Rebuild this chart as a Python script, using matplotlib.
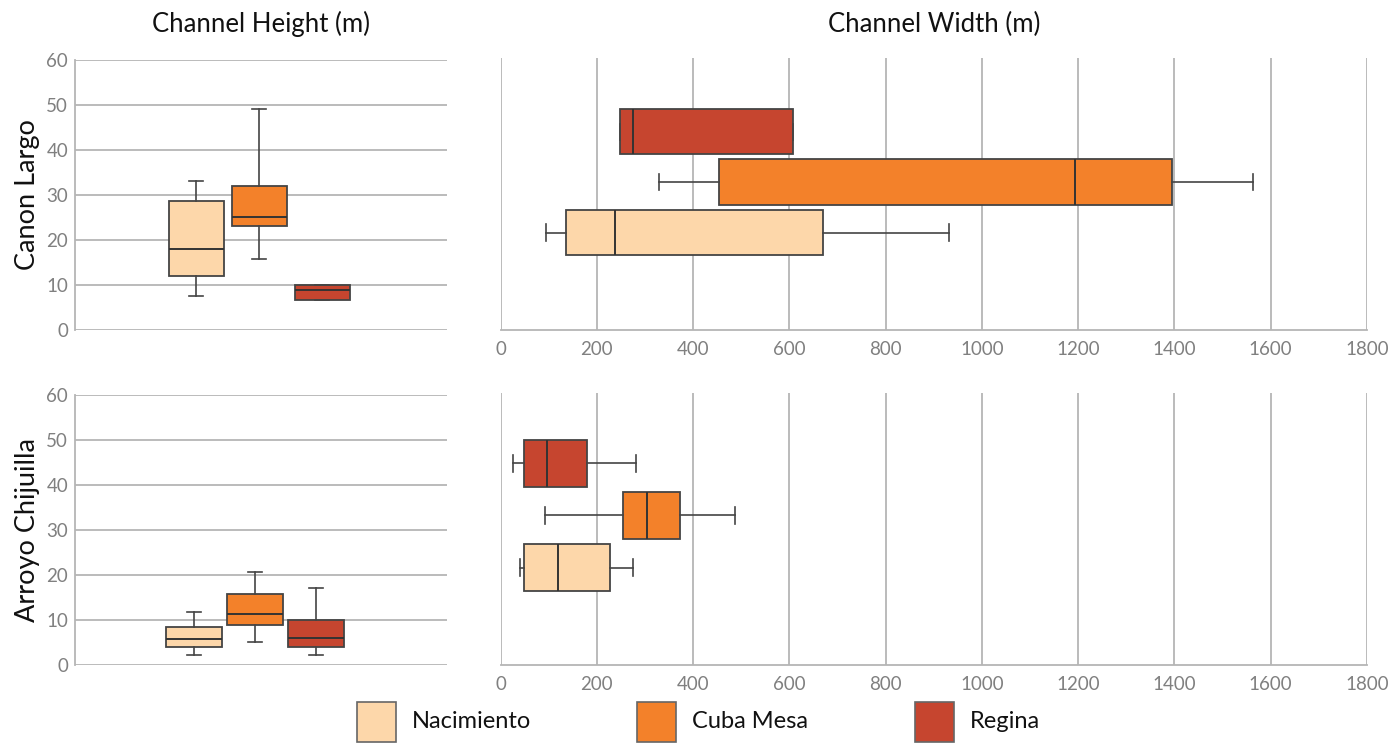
import matplotlib
matplotlib.use("Agg")
import matplotlib.pyplot as plt
from matplotlib.patches import Rectangle

plt.rcParams['font.family'] = ['Lato', 'DejaVu Sans']

# ---------------------------
# data: [whisker low, q1, median, q3, whisker high]
# ---------------------------
formations = ["Nacimiento", "Cuba Mesa", "Regina"]
colors = ["#fdd7aa", "#f3812a", "#c6452f"]
sites = ["Canon Largo", "Arroyo Chijuilla"]

cl_height_nac = [7.6, 11.9, 18.0, 28.7, 33.0]
cl_height_cuba = [15.8, 23.1, 25.1, 32.1, 49.1]
cl_height_reg = [6.7, 6.7, 8.9, 9.9, 9.9]

ac_height_nac = [2.3, 3.9, 5.8, 8.4, 11.7]
ac_height_cuba = [5.1, 8.8, 11.3, 15.8, 20.7]
ac_height_reg = [2.3, 3.9, 6.0, 10.1, 17.1]

cl_width_nac = [95, 135, 237, 669, 932]
cl_width_cuba = [329, 453, 1193, 1395, 1563]
cl_width_reg = [247, 247, 274, 608, 608]

ac_width_nac = [41, 48, 120, 228, 274]
ac_width_cuba = [93, 255, 305, 372, 487]
ac_width_reg = [25, 48, 96, 180, 282]

height_ticks = [0, 10, 20, 30, 40, 50, 60]
width_ticks = [0, 200, 400, 600, 800, 1000, 1200, 1400, 1600, 1800]

heights = [[cl_height_nac, cl_height_cuba, cl_height_reg],
           [ac_height_nac, ac_height_cuba, ac_height_reg]]
widths = [[cl_width_nac, cl_width_cuba, cl_width_reg],
          [ac_width_nac, ac_width_cuba, ac_width_reg]]

GRID = "#b5b5b5"
EDGE = "#444444"
TICK = "#808080"


def make_stats(rows):
    out = []
    for r in rows:
        out.append(dict(whislo=r[0], q1=r[1], med=r[2], q3=r[3], whishi=r[4], fliers=[]))
    return out


def draw(ax, rows, orientation, w, cap):
    bp = ax.bxp(make_stats(rows), positions=[1, 2, 3], widths=w,
                orientation=orientation, patch_artist=True, showfliers=False,
                capwidths=cap,
                boxprops=dict(edgecolor=EDGE, linewidth=1.3),
                whiskerprops=dict(color=EDGE, linewidth=1.2),
                capprops=dict(color=EDGE, linewidth=1.2),
                medianprops=dict(color="#333333", linewidth=1.4))
    for b, c in zip(bp['boxes'], colors):
        b.set_facecolor(c)
    return bp


fig = plt.figure(figsize=(14, 7.43), dpi=100)

left_boxes = [[0.0536, 0.5559, 0.2657, 0.3634], [0.0536, 0.1050, 0.2657, 0.3634]]
right_boxes = [[0.3576, 0.5559, 0.6188, 0.3661], [0.3576, 0.1050, 0.6188, 0.3661]]
left_xlim = [(-0.92, 4.98), (-0.95, 5.15)]
left_w = [0.87, 0.91]
right_ylim = [(-0.93, 4.46), (-0.87, 4.35)]

for i in range(2):
    # channel height
    ax = fig.add_axes(left_boxes[i])
    draw(ax, heights[i], "vertical", left_w[i], 0.22)
    ax.set_xlim(*left_xlim[i])
    ax.set_ylim(0, 60)
    ax.set_yticks(height_ticks)
    ax.set_xticks([])
    ax.yaxis.grid(True, color=GRID, linewidth=1.3)
    ax.set_axisbelow(True)
    for s in ["top", "right", "bottom"]:
        ax.spines[s].set_visible(False)
    ax.spines["left"].set_color(GRID)
    ax.spines["left"].set_linewidth(1.3)
    ax.tick_params(axis="y", length=0, pad=5, labelcolor=TICK, labelsize=13.5)

    # channel width
    ax2 = fig.add_axes(right_boxes[i])
    draw(ax2, widths[i], "horizontal", 0.9, 0.32)
    ax2.set_xlim(0, 1800)
    ax2.set_ylim(*right_ylim[i])
    ax2.set_xticks(width_ticks)
    ax2.set_yticks([])
    ax2.xaxis.grid(True, color=GRID, linewidth=1.3)
    ax2.set_axisbelow(True)
    for s in ["top", "right", "left"]:
        ax2.spines[s].set_visible(False)
    ax2.spines["bottom"].set_color(GRID)
    ax2.spines["bottom"].set_linewidth(1.3)
    ax2.tick_params(axis="x", length=0, pad=8, labelcolor=TICK, labelsize=13.5)

    # row label
    b = left_boxes[i]
    fig.text(0.011, b[1] + b[3] / 2, sites[i], rotation=90, ha="left", va="center",
             fontsize=19.5, color="#111111")

# column titles
fig.text(left_boxes[0][0] + left_boxes[0][2] / 2, 1 - 32 / 743, "Channel Height (m)",
         ha="center", va="baseline", fontsize=18.5, color="#111111")
fig.text(right_boxes[0][0] + right_boxes[0][2] / 2, 1 - 32 / 743, "Channel Width (m)",
         ha="center", va="baseline", fontsize=18.5, color="#111111")

# legend
leg_x = [357, 637, 915]
for name, c, x in zip(formations, colors, leg_x):
    fig.patches.append(Rectangle((x / 1400, 1 / 743), 39 / 1400, 40 / 743,
                                 transform=fig.transFigure, facecolor=c,
                                 edgecolor="#666666", linewidth=1.2))
    fig.text((x + 55) / 1400, 1 - 721 / 743, name, ha="left", va="center",
             fontsize=17, color="#111111")

fig.savefig("out.png", dpi=100)
